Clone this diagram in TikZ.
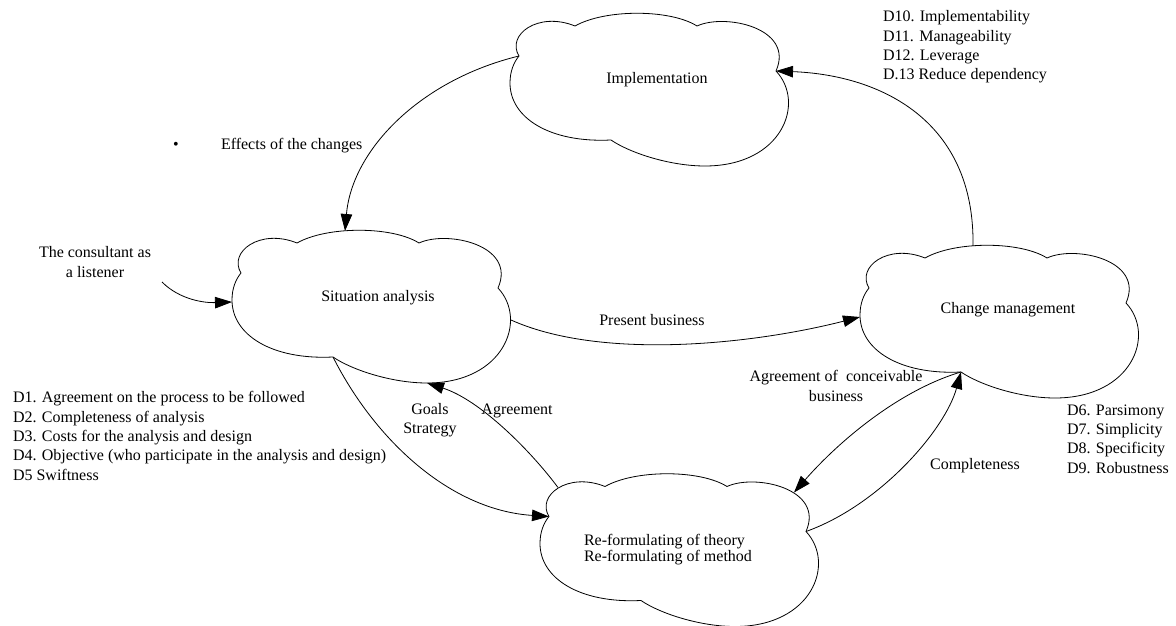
\documentclass[tikz,border=0pt]{standalone}
\usepackage{fontspec}
\setmainfont{Liberation Serif}
\usetikzlibrary{arrows.meta}

\tikzset{
  cloudline/.style={draw=black, line width=0.8pt},
  conn/.style={draw=black, line width=0.8pt, -{Triangle[length=17pt,width=11.5pt]}},
  plain/.style={inner sep=0pt, outer sep=0pt},
  listtext/.style={plain, anchor=west, align=left},
  % a five-lobed cloud, 280 x 153 units, placed by its top-left corner
  cloudshape/.pic={
    \draw[cloudline] (9,43) .. controls (-4,22) and (28,-2) .. (65,13)
      .. controls (95,-4) and (160,-4) .. (187,13)
      .. controls (215,0) and (285,15) .. (266,58)
      .. controls (296,90) and (272,153) .. (195,153)
      .. controls (160,153) and (120,140) .. (101,127)
      .. controls (40,130) and (0,105) .. (0,70)
      .. controls (0,58) and (4,49) .. (9,43) -- cycle;
    \coordinate (-A) at (9,43);
    \coordinate (-D) at (266,58);
    \coordinate (-E) at (101,127);
    \coordinate (-L) at (0,72);
    \coordinate (-R) at (279,90);
    \coordinate (-top) at (113,1);
    \coordinate (-bot) at (195,153);
    \coordinate (-tl) at (18,14);
    \coordinate (-tr) at (254,19);
  }
}

\begin{document}
\begin{tikzpicture}[x=1pt, y=-1pt, font=\fontsize{16}{19.3}\selectfont]
\useasboundingbox (0,0) rectangle (1176,626);

% clouds
\pic (imp) at (510,13) {cloudshape};
\pic (sit) at (232,230) {cloudshape};
\pic (chg) at (860,245) {cloudshape};
\pic (ref) at (540,473.5) {cloudshape};

% cloud captions
\node[plain] (imptext) at (657,80) {Implementation};
\node[plain] (sittext) at (378,298) {Situation analysis};
\node[plain] (chgtext) at (1008,310) {Change management};
\node[plain, anchor=west, align=left, font=\fontsize{16}{15.7}\selectfont] (reftext) at (584,549.5)
  {Re-formulating of theory\\Re-formulating of method};

% criteria lists
\node[listtext] (dten) at (883,47)
  {D10. Implementability\\D11. Manageability\\D12. Leverage\\D.13 Reduce dependency};
\node[listtext] (dsix) at (1067,439)
  {D6. Parsimony\\D7. Simplicity\\D8. Specificity\\D9. Robustness};
\node[listtext] (done) at (13,436)
  {D1. Agreement on the process to be followed\\D2. Completeness of analysis\\D3. Costs for the analysis and design\\D4. Objective (who participate in the analysis and design)\\D5 Swiftness};

% connector labels
\node[plain] (bullet) at (176,146) {•};
\node[plain, anchor=west] (effects) at (221,146) {Effects of the changes};
\node[plain, align=center] (consult) at (95,262) {The consultant as\\a listener};
\node[plain] (present) at (652,320) {Present business};
\node[plain, align=center] (goals) at (430,420) {Goals\\Strategy};
\node[plain] (agree) at (517,411) {Agreement};
\node[plain, align=center] (conceiv) at (836,386) {Agreement of\ \ conceivable\\business};
\node[plain] (complete) at (975,466) {Completeness};

% connectors
\coordinate (listener) at (162,282);
\draw[conn] (imp-A) .. controls (420,80) and (352,150) .. (sit-top);
\draw[conn] (listener) .. controls (180,300) and (205,303) .. (sit-L);
\draw[conn] (sit-R) .. controls (600,360) and (750,345) .. (chg-L);
\draw[conn] (sit-E) .. controls (375,440) and (450,510) .. (ref-A);
\draw[conn] (ref-tl) .. controls (530,450) and (480,400) .. (sit-bot);
\draw[conn] (chg-E) .. controls (900,390) and (840,440) .. (ref-tr);
\draw[conn] (ref-D) .. controls (880,505) and (945,430) .. (chg-E);
\draw[conn] (chg-top) .. controls (975,120) and (880,75) .. (imp-D);

\end{tikzpicture}
\end{document}
